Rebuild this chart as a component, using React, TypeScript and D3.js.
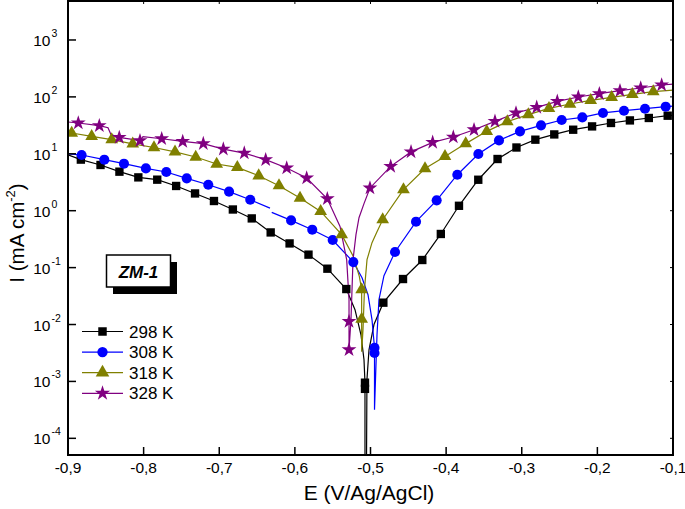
import React from 'react';
import * as d3 from 'd3';

type P = [number, number] | null;

// x-axis ticks (E, V vs Ag/AgCl)
const xTicks = [-0.9, -0.8, -0.7, -0.6, -0.5, -0.4, -0.3, -0.2, -0.1];
// y-axis tick exponents (I, mA cm^-2, log scale)
const yTickExps = [-4, -3, -2, -1, 0, 1, 2, 3];

const seriesNames = ['298 K', '308 K', '318 K', '328 K'];

// ---- 298 K ----
const line298: P[] = [
  [-0.9, 9.6], [-0.883, 7.9], [-0.857, 6.36], [-0.832, 4.85], [-0.807, 3.85], [-0.782, 3.51],
  [-0.757, 2.72], [-0.732, 2.01], [-0.707, 1.48], [-0.682, 1.05], [-0.657, 0.732], [-0.632, 0.415],
  [-0.607, 0.266], [-0.582, 0.169], [-0.557, 0.0957], [-0.532, 0.042],
  [-0.5205, 0.0182], [-0.5126, 0.0066], [-0.5086, 0.0024], [-0.5073, 9.5e-4], [-0.5073, 7.4e-4],
  [-0.5073, 1e-5], [-0.5055, 1e-5], [-0.5047, 0.00107], [-0.502, 0.0036], [-0.4954, 0.01],
  [-0.483, 0.0242], [-0.457, 0.063], [-0.4315, 0.136], [-0.407, 0.39], [-0.383, 1.22],
  [-0.3575, 3.5], [-0.332, 8.1], [-0.307, 12.9], [-0.282, 17.7], [-0.257, 21.9], [-0.232, 26.5],
  [-0.207, 30.3], [-0.182, 34.8], [-0.157, 38.6], [-0.132, 42.6], [-0.107, 46.7], [-0.1, 47.5],
];
const marks298: [number, number][] = [
  [-0.883, 7.9], [-0.857, 6.36], [-0.832, 4.85], [-0.807, 3.85], [-0.782, 3.51],
  [-0.757, 2.72], [-0.732, 2.01], [-0.707, 1.48], [-0.682, 1.05], [-0.657, 0.732], [-0.632, 0.415],
  [-0.607, 0.266], [-0.582, 0.169], [-0.557, 0.0957], [-0.532, 0.042],
  [-0.5073, 9.5e-4], [-0.5073, 7.4e-4],
  [-0.483, 0.0242], [-0.457, 0.063], [-0.4315, 0.136], [-0.407, 0.39], [-0.383, 1.22],
  [-0.3575, 3.5], [-0.332, 8.1], [-0.307, 12.9], [-0.282, 17.7], [-0.257, 21.9], [-0.232, 26.5],
  [-0.207, 30.3], [-0.182, 34.8], [-0.157, 38.6], [-0.132, 42.6], [-0.107, 46.7],
];

// ---- 308 K ----
const line308: P[] = [
  [-0.9, 10.0], [-0.882, 9.53], [-0.852, 7.88], [-0.826, 6.7], [-0.797, 5.54], [-0.77, 4.79],
  [-0.743, 3.7], [-0.7145, 2.86], [-0.687, 2.16], [-0.659, 1.56], [-0.6329, 1.11], null,
  [-0.6306, 0.933], [-0.605, 0.675], [-0.577, 0.464], [-0.55, 0.306], [-0.5227, 0.125],
  [-0.5112, 0.0664], [-0.5033, 0.0334], [-0.498, 0.0121], [-0.4947, 0.0039], [-0.4947, 0.00316],
  [-0.4947, 3.18e-4], [-0.4934, 0.00107], [-0.4914, 0.0066], [-0.4888, 0.0273], [-0.4822, 0.072],
  [-0.4676, 0.188], [-0.4398, 0.641], [-0.4125, 1.52], [-0.3852, 4.29], [-0.3574, 9.92],
  [-0.3301, 17.2], [-0.3023, 24.8], [-0.2745, 31.6], [-0.2472, 39.3], [-0.2199, 43.6],
  [-0.1926, 52.2], [-0.1648, 57.2], [-0.137, 62.0], [-0.1097, 67.3], [-0.1, 69],
];
const marks308: [number, number][] = [
  [-0.882, 9.53], [-0.852, 7.88], [-0.826, 6.7], [-0.797, 5.54], [-0.77, 4.79],
  [-0.743, 3.7], [-0.7145, 2.86], [-0.687, 2.16], [-0.659, 1.56],
  [-0.605, 0.675], [-0.577, 0.464], [-0.55, 0.306], [-0.5227, 0.125],
  [-0.4947, 0.0039], [-0.4947, 0.00316],
  [-0.4676, 0.188], [-0.4398, 0.641], [-0.4125, 1.52], [-0.3852, 4.29], [-0.3574, 9.92],
  [-0.3301, 17.2], [-0.3023, 24.8], [-0.2745, 31.6], [-0.2472, 39.3], [-0.2199, 43.6],
  [-0.1926, 52.2], [-0.1648, 57.2], [-0.137, 62.0], [-0.1097, 67.3],
];

// ---- 318 K ----
const line318: P[] = [
  [-0.9, 24.4], [-0.8951, 23.2], [-0.8687, 20.2], [-0.8422, 17.7], [-0.8144, 14.9], [-0.7863, 12.9],
  [-0.7585, 10.8], [-0.7311, 8.79], [-0.7034, 6.62], [-0.6761, 5.77], [-0.6478, 4.12], [-0.621, 2.75],
  [-0.5932, 1.67], [-0.5659, 0.972], [-0.5381, 0.379], [-0.5227, 0.157], [-0.5148, 0.07],
  [-0.5117, 0.0409], [-0.5117, 0.0125], [-0.5117, 0.00333], [-0.5099, 0.0081], [-0.508, 0.041],
  [-0.5046, 0.138], [-0.498, 0.274], [-0.4914, 0.428],
  [-0.4839, 0.695], [-0.4564, 2.34], [-0.4279, 5.52], [-0.4015, 9.0], [-0.3741, 15.1],
  [-0.3463, 24.8], [-0.3191, 36.7], [-0.2913, 48.7], [-0.264, 62.8], [-0.2362, 75.0],
  [-0.2088, 86.8], [-0.1811, 97.9], [-0.1538, 110.7], [-0.1261, 123.4], [-0.1, 131],
];
const marks318: [number, number][] = [
  [-0.8951, 23.2], [-0.8687, 20.2], [-0.8422, 17.7], [-0.8144, 14.9], [-0.7863, 12.9],
  [-0.7585, 10.8], [-0.7311, 8.79], [-0.7034, 6.62], [-0.6761, 5.77], [-0.6478, 4.12], [-0.621, 2.75],
  [-0.5932, 1.67], [-0.5659, 0.972], [-0.5381, 0.379],
  [-0.5117, 0.0409], [-0.5117, 0.0125],
  [-0.4839, 0.695], [-0.4564, 2.34], [-0.4279, 5.52], [-0.4015, 9.0], [-0.3741, 15.1],
  [-0.3463, 24.8], [-0.3191, 36.7], [-0.2913, 48.7], [-0.264, 62.8], [-0.2362, 75.0],
  [-0.2088, 86.8], [-0.1811, 97.9], [-0.1538, 110.7], [-0.1261, 123.4],
];

// ---- 328 K ----
const line328: P[] = [
  [-0.9, 36.2], [-0.8864, 34.8], [-0.8586, 31.2], [-0.8471, 28.8], [-0.8431, 21.7], [-0.8322, 19.4],
  [-0.8048, 17.0], [-0.8008, 20.0], [-0.7761, 18.4], [-0.7483, 16.5], [-0.7211, 15.1], [-0.6946, 12.1],
  [-0.6669, 10.3], [-0.6386, 7.88], [-0.6108, 5.63], [-0.5844, 3.76], [-0.5571, 1.62],
  [-0.5403, 0.53], [-0.5315, 0.138], [-0.5284, 0.0273], [-0.5284, 0.0113], [-0.5284, 0.0036],
  [-0.5258, 0.0121], [-0.5231, 0.138], [-0.5192, 0.379], [-0.5152, 0.753], [-0.5086, 1.33],
  [-0.5007, 2.51], [-0.4733, 6.01], [-0.4464, 10.8], [-0.4178, 15.9], [-0.3905, 19.7],
  [-0.3631, 26.5], [-0.3354, 37.1], [-0.3076, 52.1], [-0.2802, 65.4], [-0.253, 83.3],
  [-0.2252, 99.6], [-0.1974, 113.7], [-0.1701, 128.5], [-0.1427, 143.3], [-0.115, 161.9], [-0.1, 167],
];
const marks328: [number, number][] = [
  [-0.8864, 34.8], [-0.8586, 31.2], [-0.8322, 19.4], [-0.8048, 17.0], [-0.7761, 18.4],
  [-0.7483, 16.5], [-0.7211, 15.1], [-0.6946, 12.1], [-0.6669, 10.3], [-0.6386, 7.88],
  [-0.6108, 5.63], [-0.5844, 3.76], [-0.5571, 1.62],
  [-0.5284, 0.0113], [-0.5284, 0.0036],
  [-0.5007, 2.51], [-0.4733, 6.01], [-0.4464, 10.8], [-0.4178, 15.9], [-0.3905, 19.7],
  [-0.3631, 26.5], [-0.3354, 37.1], [-0.3076, 52.1], [-0.2802, 65.4], [-0.253, 83.3],
  [-0.2252, 99.6], [-0.1974, 113.7], [-0.1701, 128.5], [-0.1427, 143.3], [-0.115, 161.9],
];

const W = 685;
const H = 509;
const PL = 68, PR = 673, PT = 1, PB = 455;

const x = d3.scaleLinear().domain([-0.9, -0.1]).range([PL, PR]);
const y = d3.scaleLog().domain([Math.pow(10, -4.293), Math.pow(10, 3.685)]).range([PB, PT]);

const colors = ['#000000', '#0000ff', '#808000', '#800080'];
const symbols = [d3.symbolSquare, d3.symbolCircle, d3.symbolTriangle, d3.symbolStar];
const symSizes = [70, 80, 70, 68];
const legendSizes = [72, 84, 80, 72];

const series = [
  { line: line298, marks: marks298 },
  { line: line308, marks: marks308 },
  { line: line318, marks: marks318 },
  { line: line328, marks: marks328 },
];

const lineGen = d3
  .line<P>()
  .defined((d) => d != null)
  .x((d) => x((d as [number, number])[0]))
  .y((d) => y((d as [number, number])[1]));

const FONT = 'Liberation Sans, Arial, sans-serif';

export default function App() {
  const fmt = (v: number) => v.toFixed(1).replace('.', ',');
  return (
    <svg width={W} height={H} style={{ position: 'absolute', left: 0, top: 0, background: '#fff' }}>
      <defs>
        <clipPath id="plotClip">
          <rect x={PL} y={PT} width={PR - PL} height={PB - PT} />
        </clipPath>
      </defs>
      <rect x={0} y={0} width={W} height={H} fill="#fff" />

      {/* curves */}
      <g clipPath="url(#plotClip)">
        {series.map((s, i) => (
          <path key={'l' + i} d={lineGen(s.line) || ''} fill="none" stroke={colors[i]} strokeWidth={1.2} />
        ))}
        {series.map((s, i) =>
          s.marks.map((m, j) => (
            <path
              key={'m' + i + '-' + j}
              d={d3.symbol().type(symbols[i]).size(symSizes[i])() || ''}
              transform={`translate(${x(m[0])},${y(m[1])})`}
              fill={colors[i]}
            />
          ))
        )}
      </g>

      {/* frame */}
      <rect x={PL} y={PT} width={PR - PL} height={PB - PT} fill="none" stroke="#000" strokeWidth={2} />

      {/* x ticks */}
      {xTicks.map((t) => (
        <g key={'xt' + t}>
          <line x1={x(t)} x2={x(t)} y1={PB} y2={PB - 8} stroke="#000" strokeWidth={1.5} />
          <line x1={x(t)} x2={x(t)} y1={PT} y2={PT + 3} stroke="#000" strokeWidth={1} />
          <text x={x(t)} y={473} textAnchor="middle" fontFamily={FONT} fontSize={15.5} fill="#000">
            {fmt(t)}
          </text>
        </g>
      ))}

      {/* y ticks */}
      {yTickExps.map((e) => (
        <g key={'yt' + e}>
          <line x1={PL} x2={PL + 8} y1={y(Math.pow(10, e))} y2={y(Math.pow(10, e))} stroke="#000" strokeWidth={1.5} />
          <line x1={PR} x2={PR - 3} y1={y(Math.pow(10, e))} y2={y(Math.pow(10, e))} stroke="#000" strokeWidth={1} />
          <text x={50.5} y={y(Math.pow(10, e)) + 6} textAnchor="end" fontFamily={FONT} fontSize={15.5} fill="#000">
            10
          </text>
          <text x={51.5} y={y(Math.pow(10, e)) - 3} textAnchor="start" fontFamily={FONT} fontSize={10.5} fill="#000">
            {e < 0 ? '-' + Math.abs(e) : String(e)}
          </text>
        </g>
      ))}

      {/* axis titles */}
      <text x={369} y={500} textAnchor="middle" fontFamily={FONT} fontSize={21} fill="#000">
        E (V/Ag/AgCl)
      </text>
      <text transform="translate(24,233) rotate(-90)" textAnchor="middle" fontFamily={FONT} fontSize={20.5} fill="#000">
        I (mA cm<tspan dy={-9} fontSize={13}>-2</tspan>
        <tspan dy={9}>)</tspan>
      </text>

      {/* ZM-1 label box */}
      <rect x={113} y={262} width={64} height={32} fill="#000" />
      <rect x={106.5} y={255} width={64} height={32} fill="#fff" stroke="#000" strokeWidth={1.5} />
      <text x={138.5} y={277.5} textAnchor="middle" fontFamily={FONT} fontSize={17} fontWeight="bold" fontStyle="italic">
        ZM-1
      </text>

      {/* legend */}
      {seriesNames.map((n, i) => {
        const ly = 331.5 + i * 20.6;
        return (
          <g key={'lg' + i}>
            <line x1={82} x2={123} y1={ly} y2={ly} stroke={colors[i]} strokeWidth={1.2} />
            <path
              d={d3.symbol().type(symbols[i]).size(legendSizes[i])() || ''}
              transform={`translate(${102.5},${ly})`}
              fill={colors[i]}
            />
            <text x={129} y={ly + 6} fontFamily={FONT} fontSize={17} fill="#000">
              {n}
            </text>
          </g>
        );
      })}
    </svg>
  );
}
